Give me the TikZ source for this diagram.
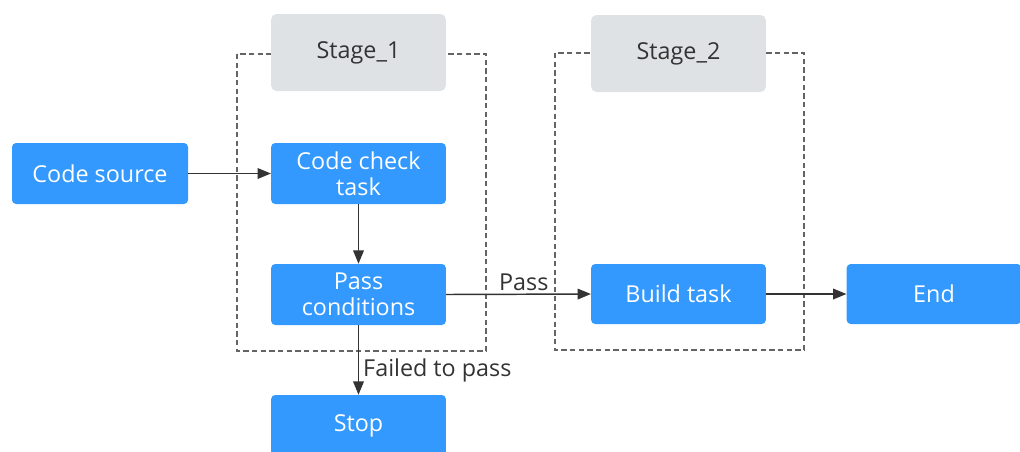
\documentclass[tikz,border=0pt]{standalone}
\usepackage{fontspec}
\setmainfont{Open Sans}
\usetikzlibrary{arrows.meta}
\definecolor{boxblue}{RGB}{51,153,255}
\definecolor{stagegray}{RGB}{223,226,229}
\definecolor{ink}{RGB}{51,51,51}
\definecolor{dashgray}{RGB}{100,100,100}
\tikzset{
  x=0.75pt, y=-0.75pt,
  task/.style={draw=none, fill=boxblue, rounded corners=3pt, text=white, align=center,
    font=\fontsize{17.5}{19.5}\selectfont, inner sep=0pt},
  stagebox/.style={draw=none, fill=stagegray, rounded corners=4pt, text=ink,
    font=\fontsize{17.5}{19.5}\selectfont, inner sep=0pt},
  frame/.style={draw=dashgray, dash pattern=on 4pt off 2.5pt, line width=0.8pt},
  conn/.style={draw=ink, line width=1.1pt, -{Triangle[length=10pt,width=8pt]}},
  lbl/.style={text=ink, font=\fontsize{17.5}{19.5}\selectfont, inner sep=2pt}
}
\begin{document}
\begin{tikzpicture}
\useasboundingbox (0,0) rectangle (1020,451);
\clip (0,0) rectangle (1020,451);
% dashed stage frames
\draw[frame] (237,54) rectangle (486,351);
\draw[frame] (555,53) rectangle (804,350);
% stage headers
\node[stagebox, minimum width=131pt, minimum height=57.75pt] (s1) at (358.5,52.5) {Stage\_1};
\node[stagebox, minimum width=131pt, minimum height=57.75pt] (s2) at (678.5,53.5) {Stage\_2};
% tasks
\node[task, minimum width=132pt, minimum height=45.75pt] (src) at (100,173.5) {Code source};
\node[task, minimum width=131pt, minimum height=45.75pt] (chk) at (358.5,173.5) {Code check\\task};
\node[task, minimum width=131pt, minimum height=45.75pt] (pc) at (358.5,294.5) {Pass\\conditions};
\node[task, minimum width=131pt, minimum height=45.75pt] (stop) at (358.5,425.5) {Stop};
\node[task, minimum width=131pt, minimum height=45pt] (build) at (678.5,294) {Build task};
\node[task, minimum width=131pt, minimum height=45pt] (end) at (934,294) {End};
% connectors
\draw[conn] (src.east) -- (chk.west);
\draw[conn] (chk.south) -- (pc.north);
\draw[conn] (pc.east) -- node[lbl, above, pos=0.5, xshift=4pt] {Pass} (build.west);
\draw[conn] (pc.south) -- node[lbl, right, pos=0.65, inner sep=3pt] {Failed to pass} (stop.north);
\draw[conn] (build.east) -- (end.west);
\end{tikzpicture}
\end{document}
